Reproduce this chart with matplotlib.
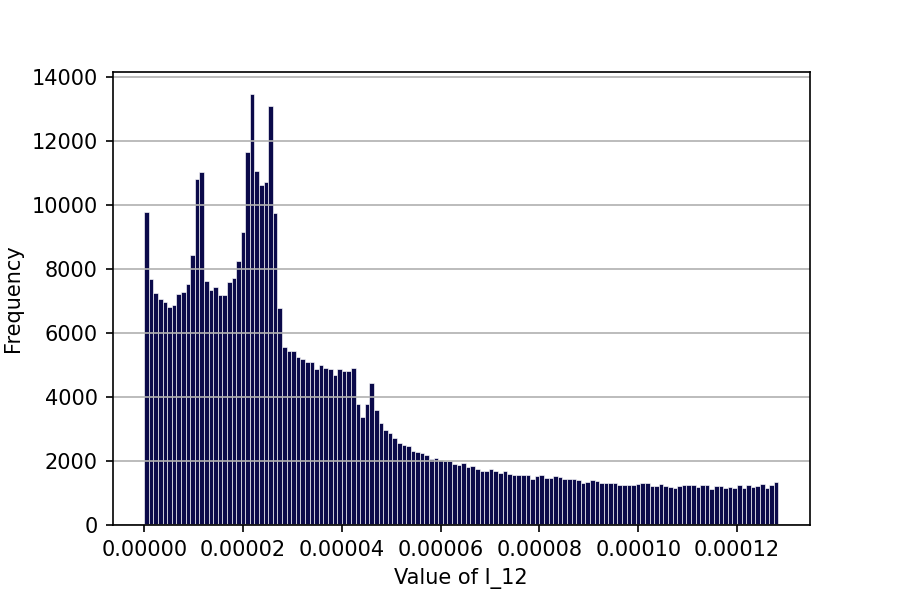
import numpy as np
import matplotlib
matplotlib.use('Agg')
import matplotlib.pyplot as plt

# Histogram counts (138 bins starting at 0)
bin_width = 9.30e-7
counts = [
    9780, 7690, 7270, 7080, 6980, 6825, 6877, 7230, 7294, 7550,
    8460, 10815, 11045, 7645, 7346, 7450, 7205, 7190, 7607, 7732,
    8242, 9149, 11670, 13494, 11076, 10649, 10743, 13098, 9764, 6790,
    5570, 5440, 5437, 5240, 5190, 5085, 5104, 4888, 4990, 4906,
    4892, 4685, 4875, 4823, 4815, 4906, 3771, 3390, 3800, 4450,
    3585, 3175, 2975, 2865, 2719, 2580, 2505, 2458, 2323, 2271,
    2240, 2177, 2063, 2090, 2020, 2000, 2000, 1900, 1865, 1927,
    1802, 1844, 1750, 1698, 1698, 1760, 1688, 1615, 1677, 1604,
    1573, 1573, 1573, 1573, 1445, 1531, 1552, 1479, 1469, 1531,
    1490, 1448, 1437, 1448, 1396, 1302, 1354, 1396, 1385, 1302,
    1313, 1300, 1302, 1240, 1240, 1240, 1240, 1271, 1302, 1302,
    1229, 1229, 1271, 1229, 1198, 1146, 1208, 1250, 1250, 1240,
    1198, 1240, 1260, 1135, 1208, 1219, 1167, 1177, 1167, 1250,
    1146, 1240, 1188, 1208, 1281, 1156, 1240, 1344,
]

left_edges = np.arange(len(counts)) * bin_width

fig, ax = plt.subplots(figsize=(6, 4), dpi=150)
fig.subplots_adjust(left=0.125, right=0.9, top=0.88, bottom=0.125)

ax.bar(left_edges, counts, width=bin_width, align='edge',
       color='#0b0a4a', edgecolor='white', linewidth=0.3)

ax.grid(True, axis='y')
ax.set_xlabel('Value of I_12')
ax.set_ylabel('Frequency')

fig.savefig('out.png', dpi=150)
